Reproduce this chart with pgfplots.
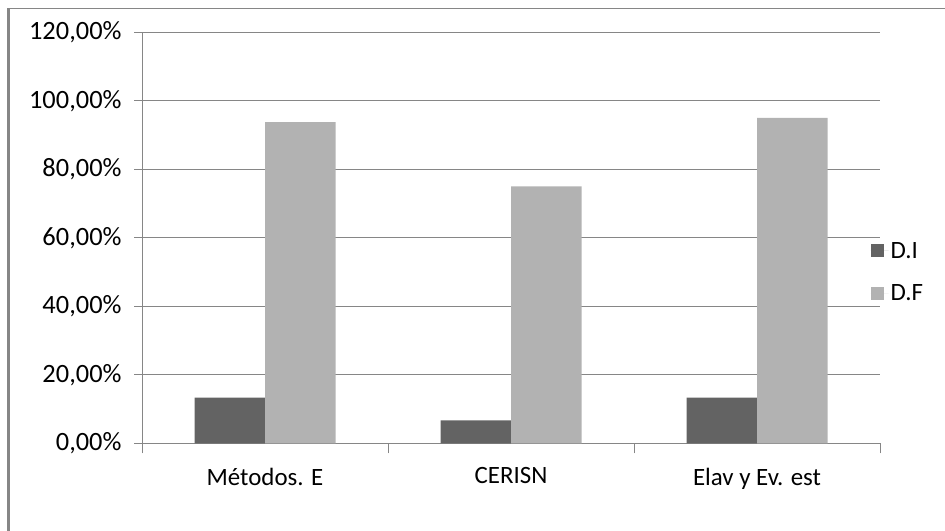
\documentclass[border=0pt]{standalone}
\usepackage{pgfplots}
\pgfplotsset{compat=1.18}
\usepackage{fontspec}
\setmainfont{Carlito}

\definecolor{darkbar}{HTML}{636363}
\definecolor{lightbar}{HTML}{B2B2B2}
\definecolor{gridgray}{HTML}{868686}

\begin{document}
\begin{tikzpicture}[x=1bp,y=1bp]
  % page frame 945 x 531, origin bottom left
  \useasboundingbox (0,0) rectangle (945,531);
  \draw[gridgray, line width=3bp] (8.5,0) -- (8.5,522);
  \draw[gridgray, line width=1bp] (7,522) -- (945,522);

  \begin{axis}[
    at={(142bp,87.7bp)}, anchor=south west,
    scale only axis,
    width=738bp, height=411bp,
    ybar=0pt, bar width=70.5bp,
    xmin=-0.5, xmax=2.5,
    ymin=0, ymax=120,
    xtick={0,1,2},
    xticklabels={Métodos. E, CERISN, Elav y Ev. est},
    minor xtick={-0.5,0.5,1.5,2.5},
    major x tick style={draw=none},
    minor tick length=10bp,
    ytick={0,20,40,60,80,100,120},
    yticklabels={{0,00\%},{20,00\%},{40,00\%},{60,00\%},{80,00\%},{100,00\%},{120,00\%}},
    major tick length=8bp,
    tick align=outside,
    axis x line*=bottom, axis y line*=left,
    axis line style={gridgray, line width=1bp},
    every tick/.style={gridgray, line width=1bp},
    ymajorgrids, grid style={gridgray, line width=1bp},
    tick label style={font=\fontsize{25}{27}\selectfont, black},
    yticklabel style={xshift=-9bp, font=\fontsize{26.5}{28}\selectfont},
    xticklabel style={yshift=-13bp},
    legend style={at={(rel axis cs:0.987,0.495)}, anchor=north west,
      draw=none, fill=none, font=\fontsize{25}{27}\selectfont,
      row sep=21bp, inner sep=0pt},
    legend cell align=left,
    legend image code/.code={
      \fill[#1] (0bp,-6.5bp) rectangle (13bp,6.5bp);
      \path (0bp,0bp) -- (18bp,0bp);},
  ]
    \addplot[fill=darkbar, draw=none] coordinates {(0,13.33) (1,6.67) (2,13.33)};
    \addplot[fill=lightbar, draw=none] coordinates {(0,93.75) (1,75) (2,95)};
    \legend{D.I, D.F}
  \end{axis}
\end{tikzpicture}
\end{document}
